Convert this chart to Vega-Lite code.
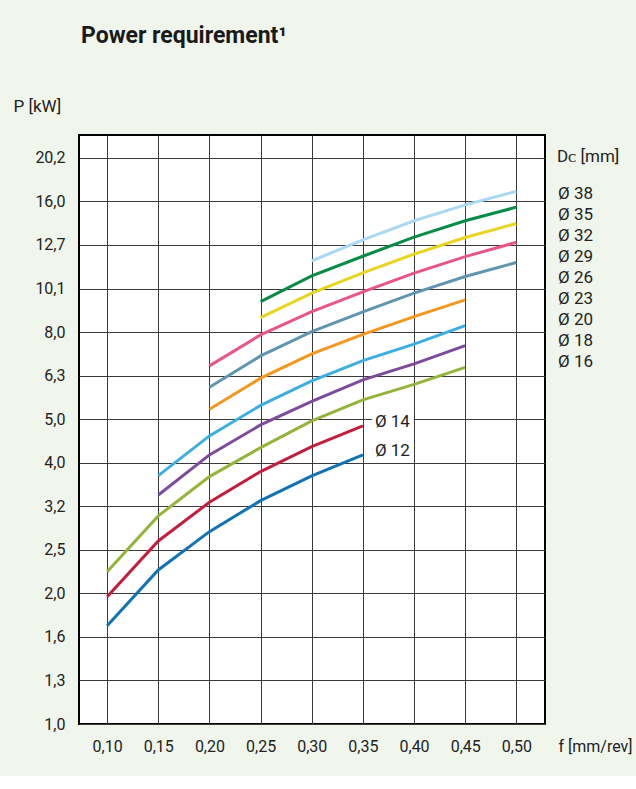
{
  "$schema": "https://vega.github.io/schema/vega-lite/v6.json",
  "width": 466,
  "height": 589,
  "autosize": {"type": "none"},
  "padding": {"left": 79, "top": 135, "right": 91, "bottom": 52},
  "background": "#f0f6ec",
  "title": {
    "text": "Power requirement¹",
    "anchor": "start",
    "frame": "group",
    "font": "Roboto",
    "fontSize": 23,
    "fontWeight": "bold",
    "color": "#1a1a1a",
    "dx": 2,
    "offset": 49
  },
  "datasets": {
    "curves": [
      {"D": 12, "f": 0.10, "P": 1.685},
      {"D": 12, "f": 0.15, "P": 2.264},
      {"D": 12, "f": 0.20, "P": 2.775},
      {"D": 12, "f": 0.25, "P": 3.271},
      {"D": 12, "f": 0.30, "P": 3.729},
      {"D": 12, "f": 0.35, "P": 4.169},
      {"D": 14, "f": 0.10, "P": 1.965},
      {"D": 14, "f": 0.15, "P": 2.641},
      {"D": 14, "f": 0.20, "P": 3.243},
      {"D": 14, "f": 0.25, "P": 3.816},
      {"D": 14, "f": 0.30, "P": 4.357},
      {"D": 14, "f": 0.35, "P": 4.863},
      {"D": 16, "f": 0.10, "P": 2.244},
      {"D": 16, "f": 0.15, "P": 3.016},
      {"D": 16, "f": 0.20, "P": 3.716},
      {"D": 16, "f": 0.25, "P": 4.334},
      {"D": 16, "f": 0.30, "P": 4.994},
      {"D": 16, "f": 0.35, "P": 5.582},
      {"D": 16, "f": 0.40, "P": 6.061},
      {"D": 16, "f": 0.45, "P": 6.634},
      {"D": 18, "f": 0.15, "P": 3.371},
      {"D": 18, "f": 0.20, "P": 4.169},
      {"D": 18, "f": 0.25, "P": 4.888},
      {"D": 18, "f": 0.30, "P": 5.538},
      {"D": 18, "f": 0.35, "P": 6.208},
      {"D": 18, "f": 0.40, "P": 6.757},
      {"D": 18, "f": 0.45, "P": 7.447},
      {"D": 20, "f": 0.15, "P": 3.735},
      {"D": 20, "f": 0.20, "P": 4.611},
      {"D": 20, "f": 0.25, "P": 5.422},
      {"D": 20, "f": 0.30, "P": 6.175},
      {"D": 20, "f": 0.35, "P": 6.877},
      {"D": 20, "f": 0.40, "P": 7.502},
      {"D": 20, "f": 0.45, "P": 8.276},
      {"D": 23, "f": 0.20, "P": 5.313},
      {"D": 23, "f": 0.25, "P": 6.264},
      {"D": 23, "f": 0.30, "P": 7.126},
      {"D": 23, "f": 0.35, "P": 7.903},
      {"D": 23, "f": 0.40, "P": 8.686},
      {"D": 23, "f": 0.45, "P": 9.491},
      {"D": 26, "f": 0.20, "P": 5.972},
      {"D": 26, "f": 0.25, "P": 7.051},
      {"D": 26, "f": 0.30, "P": 8.021},
      {"D": 26, "f": 0.35, "P": 8.905},
      {"D": 26, "f": 0.40, "P": 9.834},
      {"D": 26, "f": 0.45, "P": 10.74},
      {"D": 26, "f": 0.50, "P": 11.57},
      {"D": 29, "f": 0.20, "P": 6.686},
      {"D": 29, "f": 0.25, "P": 7.882},
      {"D": 29, "f": 0.30, "P": 8.920},
      {"D": 29, "f": 0.35, "P": 9.902},
      {"D": 29, "f": 0.40, "P": 10.94},
      {"D": 29, "f": 0.45, "P": 11.94},
      {"D": 29, "f": 0.50, "P": 12.88},
      {"D": 32, "f": 0.25, "P": 8.640},
      {"D": 32, "f": 0.30, "P": 9.834},
      {"D": 32, "f": 0.35, "P": 10.95},
      {"D": 32, "f": 0.40, "P": 12.10},
      {"D": 32, "f": 0.45, "P": 13.21},
      {"D": 32, "f": 0.50, "P": 14.23},
      {"D": 35, "f": 0.25, "P": 9.406},
      {"D": 35, "f": 0.30, "P": 10.78},
      {"D": 35, "f": 0.35, "P": 11.96},
      {"D": 35, "f": 0.40, "P": 13.24},
      {"D": 35, "f": 0.45, "P": 14.44},
      {"D": 35, "f": 0.50, "P": 15.52},
      {"D": 38, "f": 0.30, "P": 11.67},
      {"D": 38, "f": 0.35, "P": 13.05},
      {"D": 38, "f": 0.40, "P": 14.44},
      {"D": 38, "f": 0.45, "P": 15.71},
      {"D": 38, "f": 0.50, "P": 16.88}
    ],
    "labels": [
      {"f": 0.35, "P": 4.863, "t": "Ø 14"},
      {"f": 0.35, "P": 4.169, "t": "Ø 12"}
    ]
  },
  "layer": [
    {
      "data": {"name": "curves"},
      "mark": {"type": "line", "strokeWidth": 3, "strokeCap": "butt", "clip": true},
      "encoding": {
        "x": {
          "field": "f",
          "type": "quantitative",
          "scale": {"domain": [0.0725, 0.528], "nice": false, "zero": false},
          "axis": {
            "values": [0.1, 0.15, 0.2, 0.25, 0.3, 0.35, 0.4, 0.45, 0.5],
            "labelExpr": "replace(format(datum.value, '.2f'), '.', ',')",
            "ticks": false,
            "domain": false,
            "grid": true,
            "gridColor": "#3a3a3a",
            "gridWidth": 1,
            "labelFont": "Roboto",
            "labelFontSize": 16,
            "labelColor": "#222222",
            "labelBaseline": "middle",
            "labelPadding": 22,
            "title": "f [mm/rev]",
            "titleFont": "Roboto",
            "titleFontSize": 16,
            "titleFontWeight": "normal",
            "titleColor": "#222222",
            "titleX": 479,
            "titleY": 22,
            "titleAlign": "left",
            "titleBaseline": "middle"
          }
        },
        "y": {
          "field": "P",
          "type": "quantitative",
          "scale": {"type": "log", "domain": [1, 22.76], "nice": false},
          "axis": {
            "values": [1, 1.26, 1.587, 2, 2.52, 3.175, 4, 5.04, 6.35, 8, 10.08, 12.7, 16, 20.16],
            "labelExpr": "replace(format(datum.value, '.1f'), '.', ',')",
            "ticks": false,
            "domain": false,
            "grid": true,
            "gridColor": "#3a3a3a",
            "gridWidth": 1,
            "labelFont": "Roboto",
            "labelFontSize": 16,
            "labelColor": "#222222",
            "labelPadding": 14,
            "title": "P [kW]",
            "titleFont": "Roboto",
            "titleFontSize": 17,
            "titleFontWeight": "normal",
            "titleColor": "#222222",
            "titleAngle": 0,
            "titleX": -66,
            "titleY": -29,
            "titleAlign": "left",
            "titleBaseline": "middle"
          }
        },
        "color": {
          "field": "D",
          "type": "nominal",
          "scale": {
            "domain": [12, 14, 16, 18, 20, 23, 26, 29, 32, 35, 38],
            "range": ["#1172b6", "#c31f3d", "#94b43b", "#7d4b9b", "#3daee3", "#f5961f", "#5f95af", "#e9548b", "#e8d520", "#068c45", "#a9d9f3"]
          },
          "legend": {
            "orient": "none",
            "legendX": 478,
            "legendY": 14,
            "values": [38, 35, 32, 29, 26, 23, 20, 18, 16],
            "title": "Dᴄ [mm]",
            "titleFont": "Roboto",
            "titleFontSize": 17,
            "titleFontWeight": "normal",
            "titleColor": "#222222",
            "titlePadding": 19,
            "labelExpr": "'Ø ' + datum.label",
            "labelFont": "Roboto",
            "labelFontSize": 17,
            "labelColor": "#222222",
            "labelOffset": -16,
            "symbolSize": 0,
            "symbolOpacity": 0,
            "symbolStrokeWidth": 0,
            "rowPadding": 3.1,
            "padding": 0
          }
        }
      }
    },
    {
      "data": {"name": "labels"},
      "mark": {"type": "text", "align": "left", "baseline": "middle", "dx": 12, "dy": -4, "font": "Roboto", "fontSize": 17, "stroke": "#ffffff", "strokeWidth": 8, "fill": "#ffffff"},
      "encoding": {
        "x": {"field": "f", "type": "quantitative"},
        "y": {"field": "P", "type": "quantitative"},
        "text": {"field": "t", "type": "nominal"}
      }
    },
    {
      "data": {"name": "labels"},
      "mark": {"type": "text", "align": "left", "baseline": "middle", "dx": 12, "dy": -4, "font": "Roboto", "fontSize": 17, "color": "#222222"},
      "encoding": {
        "x": {"field": "f", "type": "quantitative"},
        "y": {"field": "P", "type": "quantitative"},
        "text": {"field": "t", "type": "nominal"}
      }
    }
  ],
  "config": {
    "view": {"fill": "#ffffff", "stroke": "#000000", "strokeWidth": 2}
  }
}
